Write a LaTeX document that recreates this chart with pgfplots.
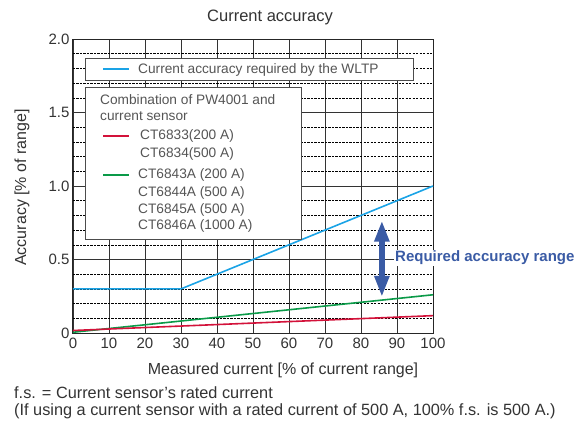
\documentclass[border=0pt]{standalone}
\usepackage{pgfplots}
\pgfplotsset{compat=1.18}
\usepackage{fontspec}
\setmainfont{Liberation Sans}
\usetikzlibrary{arrows.meta}
\definecolor{wltp}{HTML}{1AA3E6}
\definecolor{ctred}{HTML}{D3123A}
\definecolor{ctgreen}{HTML}{0A9A48}
\definecolor{arrowblue}{HTML}{3A5BA5}
\definecolor{txt}{HTML}{333333}
\definecolor{legtxt}{HTML}{555555}
\begin{document}
\begin{tikzpicture}[x=1pt,y=1pt]
\useasboundingbox (0,0) rectangle (587,421);
\begin{axis}[
  at={(73pt,88pt)}, anchor=south west,
  scale only axis, width=360pt, height=294pt,
  xmin=0, xmax=100, ymin=0, ymax=2,
  xtick={0,10,...,100},
  ytick={0,0.5,1,1.5,2},
  yticklabels={0,0.5,1.0,1.5,2.0},
  minor ytick={0.1,0.2,0.3,0.4,0.6,0.7,0.8,0.9,1.1,1.2,1.3,1.4,1.6,1.7,1.8,1.9},
  grid=both,
  major grid style={draw=black!80, line width=0.9pt},
  minor grid style={draw=black, line width=0.6pt, dash pattern=on 2.2pt off 1.3pt},
  tick style={draw=none},
  axis line style={draw=black!85, line width=1pt},
  clip=false,
  ticklabel style={font=\fontsize{15}{15}\selectfont, text=txt},
  /pgf/number format/assume math mode=true,
  xticklabel style={yshift=-1pt},
]
\addplot[draw=wltp, line width=1.6pt] coordinates {(0,0.3) (30,0.3) (100,1.0)};
\addplot[draw=ctgreen, line width=1.6pt] coordinates {(0,0.005) (100,0.26)};
\addplot[draw=ctred, line width=1.6pt] coordinates {(0,0.017) (100,0.118)};
\draw[draw=arrowblue, line width=5.5pt, {Triangle[length=21pt,width=14pt]}-{Triangle[length=21pt,width=14pt]}] (axis cs:85.8,0.765) -- (axis cs:85.8,0.245);
\end{axis}
% legend boxes
\draw[draw=black!70, line width=1pt, fill=white] (85,340.5) rectangle (413,362);
\draw[draw=wltp, line width=2pt] (103,351.7) -- (129,351.7);
\node[anchor=west, inner sep=0pt, text=legtxt, font=\fontsize{13.7}{14}\selectfont] at (138,351.5) {Current accuracy required by the WLTP};
\draw[draw=black!70, line width=1pt, fill=white] (85,181) rectangle (301,333);
\node[anchor=west, inner sep=0pt, text=legtxt, font=\fontsize{13.7}{14}\selectfont] at (100,321) {Combination of PW4001 and};
\node[anchor=west, inner sep=0pt, text=legtxt, font=\fontsize{13.7}{14}\selectfont] at (100,305) {current sensor};
\draw[draw=ctred, line width=2pt] (103,285) -- (129,285);
\node[anchor=west, inner sep=0pt, text=legtxt, font=\fontsize{13.7}{14}\selectfont] at (140,285) {CT6833(200 A)};
\node[anchor=west, inner sep=0pt, text=legtxt, font=\fontsize{13.7}{14}\selectfont] at (140,267) {CT6834(500 A)};
\draw[draw=ctgreen, line width=2pt] (103,246) -- (129,246);
\node[anchor=west, inner sep=0pt, text=legtxt, font=\fontsize{13.7}{14}\selectfont] at (138,246) {CT6843A (200 A)};
\node[anchor=west, inner sep=0pt, text=legtxt, font=\fontsize{13.7}{14}\selectfont] at (138,228) {CT6844A (500 A)};
\node[anchor=west, inner sep=0pt, text=legtxt, font=\fontsize{13.7}{14}\selectfont] at (138,211) {CT6845A (500 A)};
\node[anchor=west, inner sep=0pt, text=legtxt, font=\fontsize{13.7}{14}\selectfont] at (138,195) {CT6846A (1000 A)};
% annotation
\node[anchor=west, inner sep=1pt, fill=white, text=arrowblue, font=\bfseries\fontsize{15}{15}\selectfont] at (394,163) {Required accuracy range};
% titles and labels
\node[text=txt, font=\fontsize{16.5}{17}\selectfont] at (270,404) {Current accuracy};
\node[text=txt, rotate=90, font=\fontsize{16}{16}\selectfont] at (22,233.5) {Accuracy [\% of range]};
\node[text=txt, font=\fontsize{16}{16}\selectfont] at (283,51) {Measured current [\% of current range]};
\node[anchor=west, inner sep=0pt, text=txt, font=\fontsize{16.3}{16}\selectfont] at (14,28) {f.s. = Current sensor's rated current};
\node[anchor=west, inner sep=0pt, text=txt, font=\fontsize{16.3}{16}\selectfont] at (14,10) {(If using a current sensor with a rated current of 500 A, 100\% f.s. is 500 A.)};
\end{tikzpicture}
\end{document}
